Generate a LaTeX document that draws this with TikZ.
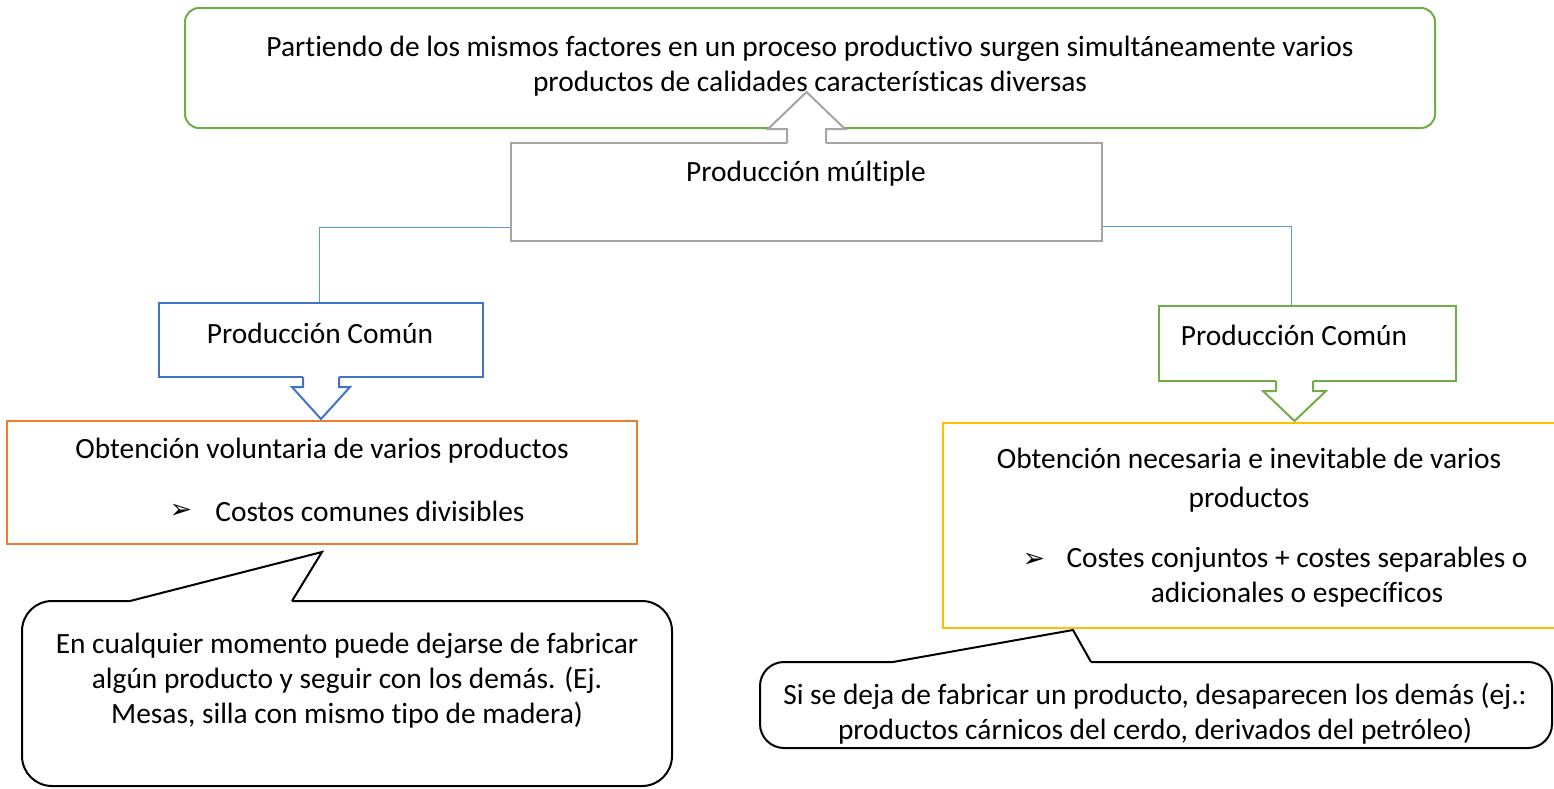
\documentclass[tikz,border=0pt]{standalone}
\usepackage{fontspec}
\setmainfont[Ligatures=NoCommon]{Carlito}
\newfontfamily\dingfont{DejaVu Sans}
\usepackage{tikz}
\usetikzlibrary{fit}
\definecolor{cgreen}{HTML}{70AD47}
\definecolor{cgray}{HTML}{A5A5A5}
\definecolor{cblue}{HTML}{4472C4}
\definecolor{corange}{HTML}{ED7D31}
\definecolor{cyellow}{HTML}{FFC000}
\definecolor{clink}{HTML}{5B9BD5}

\begin{document}
\begin{tikzpicture}[x=0.5pt,y=-0.5pt,
    every node/.style={inner sep=0pt, align=center, font=\fontsize{14.7}{17.5}\selectfont},
    frame/.style={draw=#1, line width=1pt},
    link/.style={draw=clink, line width=0.5pt},
    callbox/.style={draw=black, line width=1pt, rounded corners=#1},
    bullet/.style={font=\dingfont\fontsize{13.5}{14}\selectfont}]

    \useasboundingbox (0,0) rectangle (1554,788);

    % cajas
    \node[fit={(185,8) (1435,128)}, frame=cgreen, rounded corners=7pt] (def) {};
    \node[fit={(511,143) (1102,241)}, frame=cgray] (mult) {};
    \node[fit={(159,303) (483,377)}, frame=cblue] (comunA) {};
    \node[fit={(1159,306) (1456,381)}, frame=cgreen] (comunB) {};
    \node[fit={(7,421) (637,544)}, frame=corange] (volun) {};
    \node[fit={(943,423) (1557,628)}, frame=cyellow] (neces) {};
    \node[fit={(22,601) (672,786)}, callbox=15pt] (notaA) {};
    \node[fit={(760,662) (1552,748)}, callbox=12pt] (notaB) {};

    % lineas
    \draw[link] ([yshift=-17.5pt]mult.west) -| ([xshift=-1pt]comunA.north);
    \draw[link] ([yshift=-17pt]mult.east) -| ([xshift=-8pt]comunB.north);

    % flechas
    \fill[white] (787,145) -- (787,129) -- (768,129) -- (806.5,92) -- (845,129) -- (826,129) -- (826,145) -- cycle;
    \draw[frame=cgray] (787,143) -- (787,129) -- (768,129) -- (806.5,92) -- (845,129) -- (826,129) -- (826,143);
    \fill[white] (303,375) -- (303,387) -- (292,387) -- (321,419) -- (350,387) -- (339,387) -- (339,375) -- cycle;
    \draw[frame=cblue] (303,377) -- (303,387) -- (292,387) -- (321,419) -- (350,387) -- (339,387) -- (339,377);
    \fill[white] (1276,379) -- (1276,391) -- (1263,391) -- (1294.5,421) -- (1326,391) -- (1313,391) -- (1313,379) -- cycle;
    \draw[frame=cgreen] (1276,381) -- (1276,391) -- (1263,391) -- (1294.5,421) -- (1326,391) -- (1313,391) -- (1313,381);

    % colas de las notas
    \fill[white] (130,601) -- (322,552) -- (292,601) -- (292,603) -- (130,603) -- cycle;
    \draw[line width=1pt] (130,601) -- (322,552) -- (292,601);
    \fill[white] (893,662) -- (1073,630) -- (1091,662) -- (1091,664) -- (893,664) -- cycle;
    \draw[line width=1pt] (893,662) -- (1073,630) -- (1091,662);

    % textos
    \node (tdef) at (810,66) {Partiendo de los mismos factores en un proceso productivo surgen simultáneamente varios\\productos de calidades características diversas};
    \node (tmult) at (806,174) {Producción múltiple};
    \node (tcomunA) at (320,333) {Producción Común};
    \node (tcomunB) at (1294,335) {Producción Común};
    \node (tvolun) at (322,451) {Obtención voluntaria de varios productos};
    \node[bullet] (bvolun) at (181,511) {➢};
    \node[anchor=west] (cvolun) at (215,511) {Costos comunes divisibles};
    \node (tneces) at (1249,480) {Obtención necesaria e inevitable de varios\\[2pt]productos};
    \node[bullet] (bneces) at (1034,560) {➢};
    \node (cneces) at (1297,577) {Costes conjuntos + costes separables o\\adicionales o específicos};
    \node (tnotaA) at (347,681) {En cualquier momento puede dejarse de fabricar\\algún producto y seguir con los demás. (Ej.\\Mesas, silla con mismo tipo de madera)};
    \node (tnotaB) at (1155,714) {Si se deja de fabricar un producto, desaparecen los demás (ej.:\\productos cárnicos del cerdo, derivados del petróleo)};

\end{tikzpicture}
\end{document}
